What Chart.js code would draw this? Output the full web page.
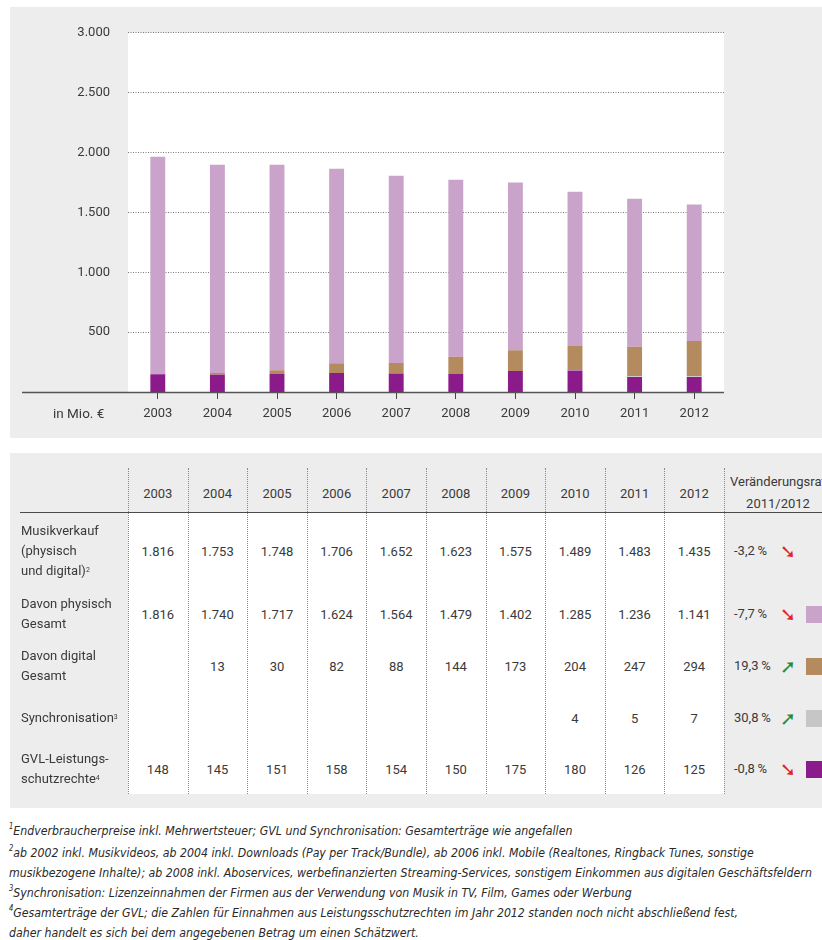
<!DOCTYPE html>
<html><head><meta charset="utf-8">
<script src="https://cdn.jsdelivr.net/npm/chart.js@4"></script>
<style>
body{margin:0;width:822px;height:940px;overflow:hidden;background:#fff;font-family:Roboto,"Liberation Sans",sans-serif;color:#3a3a3a;position:relative}
.abs{position:absolute;white-space:nowrap}
#chartPanel{position:absolute;left:10px;top:7px;width:812px;height:431px;background:#ededed}
#tablePanel{position:absolute;left:10px;top:453px;width:812px;height:355px;background:#ededed}
#whiteCells{position:absolute;left:128px;top:513px;width:596px;height:281px;background:#fff}
.vline{position:absolute;top:468px;height:326px;width:0;border-left:1px dotted #8a8a8a}
#hline{position:absolute;left:20px;top:512px;width:802px;height:0;border-top:1.5px solid #4a4a4a}
.cell{font-size:13px;transform:translate(-50%,-50%)}
.lbl{font-size:13px;line-height:20px;transform:translateY(-10px)}
sup{font-size:7px;vertical-align:top;position:relative;top:-1px}
.foot{font-family:"Liberation Sans Narrow","DejaVu Sans Condensed",sans-serif;font-style:italic;font-size:13px;color:#2a2a2a;transform-origin:0 50%;transform:translateY(-50%) scaleX(0.94)}
.foot sup{font-size:8px}
.arrow{font-family:"DejaVu Sans",sans-serif;font-size:19px;font-weight:bold;transform:translate(-50%,-50%)}
.sq{position:absolute;width:20px;height:17px}
</style></head>
<body>
<div id="chartPanel"><canvas id="c" width="812" height="431"></canvas></div>
<div class="abs" id="unit" style="left:53px;top:405px;font-size:13.5px;">in Mio. €</div>
<div id="tablePanel"></div>
<div id="whiteCells"></div>
<div id="hline"></div>
<div id="tbl"></div>
<div id="foot"></div>
<script>
// ---- data ----
const years = ['2003','2004','2005','2006','2007','2008','2009','2010','2011','2012'];
const musikverkauf = [1816,1753,1748,1706,1652,1623,1575,1489,1483,1435];
const physisch = [1816,1740,1717,1624,1564,1479,1402,1285,1236,1141];
const digital = [null,13,30,82,88,144,173,204,247,294];
const synchronisation = [null,null,null,null,null,null,null,4,5,7];
const gvl = [148,145,151,158,154,150,175,180,126,125];
const yTicks = [0,500,1000,1500,2000,2500,3000];
const changeRates = ['-3,2\u2009%','-7,7\u2009%','19,3\u2009%','30,8\u2009%','-0,8\u2009%'];
const changeUp = [false,false,true,true,false];

const colors = {physisch:'#c9a3ca', digital:'#b38b5e', sync:'#c6c6c6', gvl:'#8b1a8b'};

function fmt(v){
  if(v===null||v===undefined) return '';
  const s = String(v);
  return s.length>3 ? s.slice(0,s.length-3)+'.'+s.slice(-3) : s;
}

// ---- chart ----
const plotBg = {
  id:'plotBg',
  beforeDraw(c){
    const {ctx, chartArea:a} = c;
    ctx.save(); ctx.fillStyle='#fff';
    ctx.fillRect(a.left,a.top,a.right-a.left,a.bottom-a.top);
    ctx.restore();
  },
  afterDatasetsDraw(c){
    const {ctx, chartArea:a} = c;
    ctx.save(); ctx.strokeStyle='#555'; ctx.lineWidth=1.5;
    ctx.beginPath(); ctx.moveTo(12,a.bottom+0.5); ctx.lineTo(a.right,a.bottom+0.5); ctx.stroke();
    ctx.restore();
  }
};

new Chart(document.getElementById('c'), {
  type:'bar',
  data:{labels:years, datasets:[
    {label:'GVL-Leistungsschutzrechte', data:gvl, backgroundColor:colors.gvl},
    {label:'Synchronisation', data:synchronisation, backgroundColor:colors.sync},
    {label:'Davon digital Gesamt', data:digital, backgroundColor:colors.digital},
    {label:'Davon physisch Gesamt', data:physisch, backgroundColor:colors.physisch}
  ]},
  options:{
    responsive:false, animation:false,
    datasets:{bar:{barPercentage:0.25, categoryPercentage:1}},
    layout:{padding:{top:22,right:98,left:0,bottom:0}},
    plugins:{legend:{display:false}, tooltip:{enabled:false}},
    scales:{
      x:{stacked:true,
         grid:{display:true, drawOnChartArea:false, drawTicks:true, tickLength:7, color:'#444', offset:false},
         border:{display:false},
         ticks:{padding:7, color:'#3a3a3a', font:{family:'Roboto', size:13}},
         afterFit(s){ s.height = 46; }},
      y:{stacked:true, min:0, max:3000,
         afterBuildTicks(s){ s.ticks = yTicks.map(v=>({value:v})); },
         ticks:{padding:18, color:'#3a3a3a', font:{family:'Roboto', size:13},
                callback:v=> v===0 ? '' : fmt(v)},
         grid:{drawTicks:false, color:'#7a7a7a', lineWidth:ctx=> ctx.tick && ctx.tick.value===0 ? 0 : 1},
         border:{display:false, dash:[1,1.5]},
         afterFit(s){ s.width = 118; }}
    }
  },
  plugins:[plotBg]
});

// ---- table ----
const tbl = document.getElementById('tbl');
const colLeft = i => 128 + i*59.6;
let html = '';
for(let i=0;i<=10;i++) html += `<div class="vline" style="left:${colLeft(i)}px"></div>`;
years.forEach((y,i)=>{ html += `<div class="abs cell" style="left:${colLeft(i)+29.8}px;top:493px">${y}</div>`; });
html += `<div class="abs" style="left:730px;top:474px;font-size:13px">Veränderungsrate</div>`;
html += `<div class="abs cell" style="left:778px;top:503px">2011/2012</div>`;

const rowLabels = [
  ['Musikverkauf','(physisch','und digital)<sup>2</sup>'],
  ['Davon physisch','Gesamt'],
  ['Davon digital','Gesamt'],
  ['Synchronisation<sup>3</sup>'],
  ['GVL-Leistungs-','schutzrechte<sup>4</sup>']
];
const rowValues = [musikverkauf, physisch, digital, synchronisation, gvl];
const rowY = [551,614,666,718,769];
const rowLabelY = [531,604,656,718,759];
const rowSwatch = [null, colors.physisch, colors.digital, colors.sync, colors.gvl];
rowLabels.forEach((lines,r)=>{
  html += `<div class="abs lbl" style="left:21px;top:${rowLabelY[r]}px">${lines.join('<br>')}</div>`;
  rowValues[r].forEach((v,i)=>{
    if(v!==null) html += `<div class="abs cell" style="left:${colLeft(i)+29.8}px;top:${rowY[r]}px">${fmt(v)}</div>`;
  });
  html += `<div class="abs" style="left:734px;top:${rowY[r]-8}px;font-size:13px">${changeRates[r]}</div>`;
  html += `<div class="abs arrow" style="left:788px;top:${rowY[r]}px;color:${changeUp[r]?'#2a8a3c':'#e3232b'}">${changeUp[r]?'➚':'➘'}</div>`;
  if(rowSwatch[r]) html += `<div class="sq" style="left:806px;top:${rowY[r]-8}px;background:${rowSwatch[r]}"></div>`;
});
tbl.innerHTML = html;

// ---- footnotes ----
const footnotes = [
  '<sup>1</sup>Endverbraucherpreise inkl. Mehrwertsteuer; GVL und Synchronisation: Gesamterträge wie angefallen',
  '<sup>2</sup>ab 2002 inkl. Musikvideos, ab 2004 inkl. Downloads (Pay per Track/Bundle), ab 2006 inkl. Mobile (Realtones, Ringback Tunes, sonstige',
  'musikbezogene Inhalte); ab 2008 inkl. Aboservices, werbefinanzierten Streaming-Services, sonstigem Einkommen aus digitalen Geschäftsfeldern',
  '<sup>3</sup>Synchronisation: Lizenzeinnahmen der Firmen aus der Verwendung von Musik in TV, Film, Games oder Werbung',
  '<sup>4</sup>Gesamterträge der GVL; die Zahlen für Einnahmen aus Leistungsschutzrechten im Jahr 2012 standen noch nicht abschließend fest,',
  'daher handelt es sich bei dem angegebenen Betrag um einen Schätzwert.'
];
const footY = [830,852,872,892,912,932];
document.getElementById('foot').innerHTML = footnotes.map((t,i)=>`<div class="abs foot" style="left:9px;top:${footY[i]}px">${t}</div>`).join('');
</script>
</body></html>
